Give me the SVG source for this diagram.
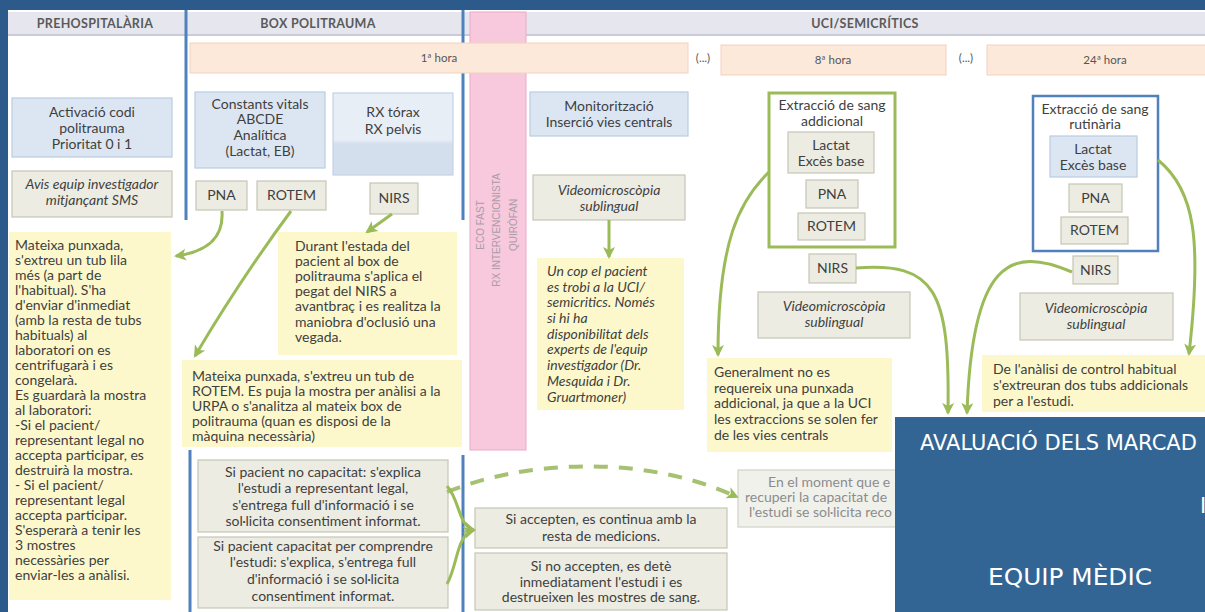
<svg xmlns="http://www.w3.org/2000/svg" width="1205" height="612" viewBox="0 0 1205 612">
<style>
.t{font-family:Lato,"Open Sans","Liberation Sans",sans-serif;font-size:14px;fill:#3f3f3f}
.c{text-anchor:middle}
.i{font-style:italic}
.h{font-family:Lato,"Open Sans","Liberation Sans",sans-serif;font-size:12.5px;font-weight:bold;fill:#5a5a5a;text-anchor:middle;letter-spacing:0.3px}
.hr{font-family:Lato,"Open Sans","Liberation Sans",sans-serif;font-size:11.5px;fill:#555;text-anchor:middle}
.blue{fill:#dce6f2;stroke:#b9cbe2;stroke-width:1.2}
.gray{fill:#ececE2;stroke:#c6c6b6;stroke-width:1.2}
.note{fill:#fcf8cc}
.hour{fill:#fde9d9;stroke:#f1d2bf;stroke-width:1}
.vl{stroke:#4f81bd;stroke-width:3}
.conn{fill:none;stroke:#9bbb59;stroke-width:3}
.dash{fill:none;stroke:#a6c172;stroke-width:4;stroke-dasharray:14 11}
.ov{font-family:"DejaVu Sans",sans-serif;font-size:21px;fill:#ffffff}
.pk{font-family:"Liberation Sans",sans-serif;font-size:10px;fill:#ab9ca6;text-anchor:middle}
.gt{fill:#8c8c8c}
</style>
<defs>
<marker id="ah" markerUnits="userSpaceOnUse" markerWidth="14" markerHeight="14" refX="10" refY="7" orient="auto">
<path d="M0,1 L12,7 L0,13 L3,7 z" fill="#9bbb59"/>
</marker>
<linearGradient id="rxg" x1="0" y1="0" x2="0" y2="1">
<stop offset="0" stop-color="#e8eef6"/><stop offset="0.57" stop-color="#e8eef6"/><stop offset="0.62" stop-color="#d4dfed"/><stop offset="1" stop-color="#d4dfed"/>
</linearGradient>
</defs>
<rect x="0" y="0" width="1205" height="612" fill="#ffffff"/>
<rect x="0" y="0" width="1205" height="10" fill="#2c5b8b"/>
<rect x="0" y="0" width="8" height="612" fill="#2c5b8b"/>

<g id="headers">
<rect x="8" y="12" width="1197" height="23" fill="#e6e7ee"/>
<rect x="8" y="34" width="1197" height="2" fill="#c9ccd8"/>
<text class="h" x="95" y="28">PREHOSPITALÀRIA</text>
<text class="h" x="318" y="28">BOX POLITRAUMA</text>
<text class="h" x="865" y="28">UCI/SEMICRÍTICS</text>
</g>

<g id="lanes">
<line class="vl" x1="186" y1="10" x2="186" y2="220"/>
<line class="vl" x1="463" y1="10" x2="463" y2="220"/>
<line class="vl" x1="190" y1="450" x2="190" y2="612"/>
<line class="vl" x1="463" y1="455" x2="463" y2="612"/>
</g>

<g id="pink-column">
<rect x="470" y="12" width="56" height="438" fill="#f8c9dd" stroke="#e9aac6" stroke-width="1"/>
<text class="pk" transform="translate(484,225) rotate(-90)">ECO FAST</text>
<text class="pk" transform="translate(500,230) rotate(-90)">RX INTERVENCIONISTA</text>
<text class="pk" transform="translate(517,225) rotate(-90)">QUIRÒFAN</text>
</g>

<g id="hours">
<rect class="hour" x="190" y="43" width="498" height="30"/>
<text class="hr" x="439" y="62">1ª hora</text>
<text class="hr" x="703" y="62">(...)</text>
<rect class="hour" x="721" y="45" width="225" height="30"/>
<text class="hr" x="833" y="64">8ª hora</text>
<text class="hr" x="966" y="62">(...)</text>
<rect class="hour" x="987" y="45" width="220" height="30"/>
<text class="hr" x="1105" y="64">24ª hora</text>
</g>

<g id="activacio">
<rect class="blue" x="12" y="98" width="160" height="59"/>
<text class="t c" x="92" y="117">Activació codi</text>
<text class="t c" x="92" y="133">politrauma</text>
<text class="t c" x="92" y="149">Prioritat 0 i 1</text>
</g>
<g id="avis">
<rect class="gray" x="12" y="171" width="160" height="46"/>
<text class="t c i" x="92" y="189">Avis equip investigador</text>
<text class="t c i" x="92" y="205">mitjançant SMS</text>
</g>
<g id="note-pna">
<rect class="note" x="9" y="232" width="162" height="368"/>
<text class="t" x="15" y="250">Mateixa punxada,</text>
<text class="t" x="15" y="265">s'extreu un tub lila</text>
<text class="t" x="15" y="280">més (a part de</text>
<text class="t" x="15" y="295">l'habitual). S'ha</text>
<text class="t" x="15" y="310">d'enviar d'inmediat</text>
<text class="t" x="15" y="325">(amb la resta de tubs</text>
<text class="t" x="15" y="340">habituals) al</text>
<text class="t" x="15" y="355">laboratori on es</text>
<text class="t" x="15" y="370">centrifugarà i es</text>
<text class="t" x="15" y="385">congelarà.</text>
<text class="t" x="15" y="400">Es guardarà la mostra</text>
<text class="t" x="15" y="415">al laboratori:</text>
<text class="t" x="15" y="430">-Si el pacient/</text>
<text class="t" x="15" y="445">representant legal no</text>
<text class="t" x="15" y="460">accepta participar, es</text>
<text class="t" x="15" y="475">destruirà la mostra.</text>
<text class="t" x="15" y="490">- Si el pacient/</text>
<text class="t" x="15" y="505">representant legal</text>
<text class="t" x="15" y="520">accepta participar.</text>
<text class="t" x="15" y="535">S'esperarà a tenir les</text>
<text class="t" x="15" y="550">3 mostres</text>
<text class="t" x="15" y="565">necessàries per</text>
<text class="t" x="15" y="580">enviar-les a anàlisi.</text>
</g>

<g id="constants">
<rect class="blue" x="195" y="92" width="130" height="76"/>
<text class="t c" x="260" y="109">Constants vitals</text>
<text class="t c" x="260" y="124">ABCDE</text>
<text class="t c" x="260" y="140">Analítica</text>
<text class="t c" x="260" y="156">(Lactat, EB)</text>
</g>
<g id="rx">
<rect x="333" y="93" width="120" height="82" fill="url(#rxg)" stroke="#c4d3e6" stroke-width="1.2"/>
<text class="t c" x="393" y="117">RX tórax</text>
<text class="t c" x="393" y="134">RX pelvis</text>
</g>
<g id="pna1"><rect class="gray" x="196" y="181" width="51" height="29"/><text class="t c" x="221.5" y="200">PNA</text></g>
<g id="rotem1"><rect class="gray" x="257" y="181" width="69" height="29"/><text class="t c" x="291.5" y="200">ROTEM</text></g>
<g id="nirs1"><rect class="gray" x="370" y="183" width="48" height="31"/><text class="t c" x="394" y="203">NIRS</text></g>

<g id="note-nirs">
<rect class="note" x="278" y="232" width="179" height="123"/>
<text class="t" x="295" y="251">Durant l'estada del</text>
<text class="t" x="295" y="266">pacient al box de</text>
<text class="t" x="295" y="281">politrauma s'aplica el</text>
<text class="t" x="295" y="296">pegat del NIRS a</text>
<text class="t" x="295" y="311">avantbraç i es realitza la</text>
<text class="t" x="295" y="327">maniobra d'oclusió una</text>
<text class="t" x="295" y="342">vegada.</text>
</g>
<g id="note-rotem">
<rect class="note" x="182" y="360" width="280" height="87"/>
<text class="t" x="192" y="381">Mateixa punxada, s'extreu un tub de</text>
<text class="t" x="192" y="396">ROTEM. Es puja la mostra per anàlisi a la</text>
<text class="t" x="192" y="411">URPA o s'analitza al mateix box de</text>
<text class="t" x="192" y="426">politrauma (quan es disposi de la</text>
<text class="t" x="192" y="441">màquina necessària)</text>
</g>

<g id="no-capacitat">
<rect class="gray" x="198" y="460" width="250" height="72"/>
<text class="t c" x="323" y="477">Si pacient no capacitat: s'explica</text>
<text class="t c" x="323" y="493">l'estudi a representant legal,</text>
<text class="t c" x="323" y="510">s'entrega full d'informació i se</text>
<text class="t c" x="323" y="526">sol·licita consentiment informat.</text>
</g>
<g id="capacitat">
<rect class="gray" x="198" y="537" width="250" height="71"/>
<text class="t c" x="323" y="551">Si pacient capacitat per comprendre</text>
<text class="t c" x="323" y="567">l'estudi: s'explica, s'entrega full</text>
<text class="t c" x="323" y="584">d'informació i se sol·licita</text>
<text class="t c" x="323" y="601">consentiment informat.</text>
</g>
<g id="accepten">
<rect class="gray" x="475" y="508" width="252" height="40"/>
<text class="t c" x="601" y="524">Si accepten, es continua amb la</text>
<text class="t c" x="601" y="541">resta de medicions.</text>
</g>
<g id="no-accepten">
<rect class="gray" x="475" y="553" width="252" height="57"/>
<text class="t c" x="601" y="571">Si no accepten, es detè</text>
<text class="t c" x="601" y="587">inmediatament l'estudi i es</text>
<text class="t c" x="601" y="602">destrueixen les mostres de sang.</text>
</g>
<g id="moment">
<rect x="738" y="470" width="230" height="57" fill="#f1f1ec" stroke="#d2d2c8" stroke-width="1.2"/>
<text class="t gt" x="768" y="487">En el moment que e</text>
<text class="t gt" x="745" y="502">recuperi la capacitat de</text>
<text class="t gt" x="749" y="517">l'estudi se sol·licita reco</text>
</g>

<g id="monitoritzacio">
<rect class="blue" x="530" y="92" width="158" height="44"/>
<text class="t c" x="609" y="111">Monitorització</text>
<text class="t c" x="609" y="127">Inserció vies centrals</text>
</g>
<g id="video1">
<rect class="gray" x="533" y="175" width="152" height="45"/>
<text class="t c i" x="609" y="195">Videomicroscòpia</text>
<text class="t c i" x="609" y="211">sublingual</text>
</g>
<g id="note-uci">
<rect class="note" x="537" y="258" width="147" height="152"/>
<text class="t i" x="547" y="276">Un cop el pacient</text>
<text class="t i" x="547" y="292">es trobi a la UCI/</text>
<text class="t i" x="547" y="307">semicritics. Només</text>
<text class="t i" x="547" y="323">si hi ha</text>
<text class="t i" x="547" y="339">disponibilitat dels</text>
<text class="t i" x="547" y="354">experts de l'equip</text>
<text class="t i" x="547" y="370">investigador (Dr.</text>
<text class="t i" x="547" y="386">Mesquida i Dr.</text>
<text class="t i" x="547" y="402">Gruartmoner)</text>
</g>

<g id="extraccio-addicional">
<rect x="769" y="93" width="126" height="154" fill="#ffffff" stroke="#9bbb59" stroke-width="3"/>
<text class="t c" x="832" y="110">Extracció de sang</text>
<text class="t c" x="832" y="126">addicional</text>
<rect class="gray" x="788" y="132" width="86" height="41"/>
<text class="t c" x="831" y="150">Lactat</text>
<text class="t c" x="831" y="166">Excès base</text>
<rect class="gray" x="806" y="180" width="52" height="28"/>
<text class="t c" x="832" y="199">PNA</text>
<rect class="gray" x="798" y="213" width="67" height="27"/>
<text class="t c" x="831.5" y="231">ROTEM</text>
</g>
<g id="nirs2"><rect class="gray" x="809" y="254" width="47" height="29"/><text class="t c" x="832.5" y="273">NIRS</text></g>
<g id="video2">
<rect class="gray" x="758" y="292" width="152" height="46"/>
<text class="t c i" x="834" y="311">Videomicroscòpia</text>
<text class="t c i" x="834" y="327">sublingual</text>
</g>
<g id="note-8h">
<rect class="note" x="707" y="358" width="185" height="94"/>
<text class="t" x="714" y="377">Generalment no es</text>
<text class="t" x="714" y="393">requereix una punxada</text>
<text class="t" x="714" y="408">addicional, ja que a la UCI</text>
<text class="t" x="714" y="424">les extraccions se solen fer</text>
<text class="t" x="714" y="440">de les vies centrals</text>
</g>

<g id="extraccio-rutinaria">
<rect x="1033" y="96" width="125" height="155" fill="#ffffff" stroke="#4f81bd" stroke-width="2.5"/>
<text class="t c" x="1095" y="114">Extracció de sang</text>
<text class="t c" x="1095" y="129">rutinària</text>
<rect class="blue" x="1050" y="136" width="87" height="41"/>
<text class="t c" x="1093" y="154">Lactat</text>
<text class="t c" x="1093" y="170">Excès base</text>
<rect class="gray" x="1069" y="184" width="53" height="28"/>
<text class="t c" x="1095.5" y="203">PNA</text>
<rect class="gray" x="1061" y="217" width="67" height="27"/>
<text class="t c" x="1094.5" y="235">ROTEM</text>
</g>
<g id="nirs3"><rect class="gray" x="1073" y="256" width="45" height="28"/><text class="t c" x="1095.5" y="275">NIRS</text></g>
<g id="video3">
<rect class="gray" x="1020" y="293" width="153" height="47"/>
<text class="t c i" x="1096" y="313">Videomicroscòpia</text>
<text class="t c i" x="1096" y="329">sublingual</text>
</g>
<g id="note-24h">
<rect class="note" x="982" y="355" width="223" height="57"/>
<text class="t" x="993" y="374">De l'anàlisi de control habitual</text>
<text class="t" x="993" y="390">s'extreuran dos tubs addicionals</text>
<text class="t" x="993" y="406">per a l'estudi.</text>
</g>

<g id="connectors">
<path class="conn" d="M222,211 C224,240 205,252 176,256" marker-end="url(#ah)"/>
<path class="conn" d="M291,211 Q240,280 195,356" marker-end="url(#ah)"/>
<path class="conn" d="M392,214 L367,232" marker-end="url(#ah)"/>
<path class="conn" d="M609,220 L609,257" marker-end="url(#ah)"/>
<path class="conn" d="M769,172 C740,200 718,240 718,355" marker-end="url(#ah)"/>
<path class="conn" d="M856,268 C935,262 950,290 948,413" marker-end="url(#ah)"/>
<path class="conn" d="M1072,272 C1010,245 972,262 967,413" marker-end="url(#ah)"/>
<path class="conn" d="M1158,160 C1195,190 1202,240 1189,354" marker-end="url(#ah)"/>
<path class="dash" d="M447,492 C520,462 640,452 737,497" marker-end="url(#ah)"/>
<path class="conn" d="M447,486 C460,500 458,526 474,530" marker-end="url(#ah)"/>
<path class="conn" d="M447,584 C458,565 456,535 474,530" marker-end="url(#ah)"/>
</g>

<g id="overlay">
<rect x="895" y="417" width="310" height="195" fill="#336594"/>
<text class="ov" x="920" y="450">AVALUACIÓ DELS MARCAD</text>
<text class="ov" x="1200" y="513">I</text>
<text class="ov" x="988" y="585" style="font-size:23px" textLength="164" lengthAdjust="spacingAndGlyphs">EQUIP MÈDIC</text>
</g>
</svg>
